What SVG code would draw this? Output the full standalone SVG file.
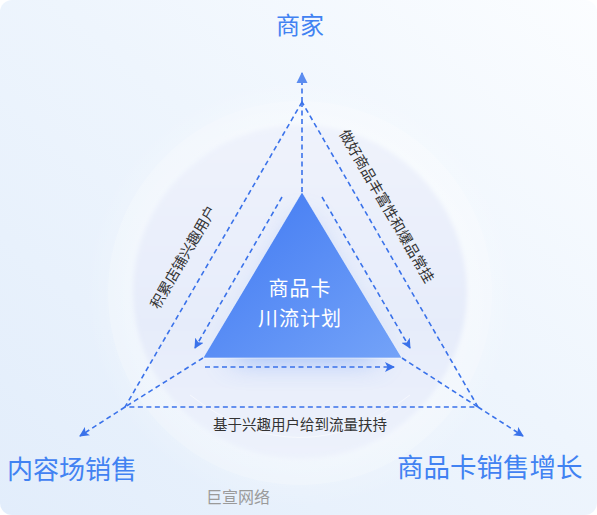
<svg xmlns="http://www.w3.org/2000/svg" width="597" height="515" viewBox="0 0 597 515">
  <defs>
    <linearGradient id="bg" x1="0" y1="1" x2="1" y2="0">
      <stop offset="0" stop-color="#e2edfb"/>
      <stop offset="0.55" stop-color="#eef5fd"/>
      <stop offset="1" stop-color="#fbfdff"/>
    </linearGradient>
    <radialGradient id="halo" cx="0.5" cy="0.5" r="0.5">
      <stop offset="0.7" stop-color="#ffffff" stop-opacity="0.35"/>
      <stop offset="1" stop-color="#ffffff" stop-opacity="0"/>
    </radialGradient>
    <linearGradient id="disc" x1="0" y1="0" x2="0" y2="1">
      <stop offset="0" stop-color="#eff3fc"/>
      <stop offset="0.6" stop-color="#e6ecfa"/>
      <stop offset="1" stop-color="#edf2fc"/>
    </linearGradient>
    <linearGradient id="tri" x1="0" y1="0" x2="1" y2="1">
      <stop offset="0" stop-color="#3f78f2"/>
      <stop offset="1" stop-color="#74a3f8"/>
    </linearGradient>
    <filter id="blur" x="-50%" y="-50%" width="200%" height="200%">
      <feGaussianBlur stdDeviation="14"/>
    </filter>
    <filter id="soft" x="-20%" y="-20%" width="140%" height="140%">
      <feGaussianBlur stdDeviation="2"/>
    </filter>
    <marker id="ah" viewBox="0 0 10 10" refX="9" refY="5" markerWidth="10" markerHeight="10" markerUnits="userSpaceOnUse" orient="auto">
      <path d="M0,0 L10,5 L0,10 L2.5,5 z" fill="#3a72ea"/>
    </marker>
    <marker id="ahTop" viewBox="0 0 10 10" refX="9" refY="5" markerWidth="11" markerHeight="12" markerUnits="userSpaceOnUse" orient="auto">
      <path d="M0,0 L10,5 L0,10 z" fill="#5b8cf0"/>
    </marker>
  </defs>
  <style>
    .dash { fill: none; stroke: #3a72ea; stroke-width: 1.6; stroke-dasharray: 5 3.5; }
    .big { font-family: "Noto Sans CJK SC", "Noto Sans", sans-serif; fill: #4182f2; }
    .lbl { font-family: "Noto Sans CJK SC", "Noto Sans", sans-serif; fill: #333333; font-size: 14.5px; }
    .ctr { font-family: "Noto Sans CJK SC", "Noto Sans", sans-serif; fill: #ffffff; font-size: 20px; letter-spacing: 1px; }
  </style>

  <!-- background -->
  <rect x="0" y="0" width="597" height="515" fill="#ffffff"/>
  <rect x="0" y="0" width="597" height="515" rx="12" fill="url(#bg)"/>
  <circle cx="300" cy="293" r="215" fill="url(#halo)"/>
  <circle cx="300" cy="293" r="192" fill="#ffffff" fill-opacity="0.2"/>
  <circle cx="300" cy="292" r="167" fill="url(#disc)" filter="url(#soft)"/>
  <path d="M190,395 Q300,480 410,395" fill="none" stroke="#ffffff" stroke-opacity="0.5" stroke-width="1"/>

  <!-- center node -->
  <g id="center">
    <path d="M302,215 L228,360 L380,360 Z" fill="#4d84f3" opacity="0.5" filter="url(#blur)"/>
    <path d="M302,192 L203,358 L402,358 Z" fill="url(#tri)" stroke="#ffffff" stroke-opacity="0.55" stroke-width="1" stroke-linejoin="round"/>
    <text class="ctr" x="300" y="296" text-anchor="middle">商品卡</text>
    <text class="ctr" x="300" y="326" text-anchor="middle">川流计划</text>
  </g>

  <!-- connectors -->
  <g id="connectors">
    <path class="dash" d="M302,102 L125,407 L478,407 Z"/>
    <line class="dash" x1="302" y1="192" x2="302" y2="102"/>
    <line class="dash" x1="203" y1="358" x2="125" y2="407"/>
    <line class="dash" x1="402" y1="358" x2="478" y2="407"/>
    <line class="dash" x1="302" y1="102" x2="302" y2="73" stroke="#5b8cf0" marker-end="url(#ahTop)"/>
    <line class="dash" x1="125" y1="407" x2="80" y2="436" marker-end="url(#ah)"/>
    <line class="dash" x1="478" y1="407" x2="523" y2="436" marker-end="url(#ah)"/>
    <line class="dash" x1="282" y1="197" x2="195" y2="348" marker-end="url(#ah)"/>
    <line class="dash" x1="322" y1="197" x2="410" y2="348" marker-end="url(#ah)"/>
    <line class="dash" x1="205" y1="367" x2="394" y2="367" marker-end="url(#ah)"/>
  </g>

  <!-- labels -->
  <g id="merchant">
    <text class="big" x="300" y="34" font-size="24" text-anchor="middle">商家</text>
  </g>
  <g id="content-sales">
    <text class="big" x="7" y="479" font-size="26">内容场销售</text>
  </g>
  <g id="card-sales">
    <text class="big" x="397" y="477" font-size="26.5">商品卡销售增长</text>
  </g>
  <g id="edge-labels">
    <text class="lbl" transform="translate(183,257) rotate(-60)" x="0" y="5.5" text-anchor="middle">积累店铺兴趣用户</text>
    <text class="lbl" transform="translate(387,206) rotate(60)" x="0" y="5.5" text-anchor="middle" font-size="15">做好商品丰富性和爆品常挂</text>
    <text class="lbl" x="300" y="430" text-anchor="middle">基于兴趣用户给到流量扶持</text>
  </g>
  <g id="watermark">
    <text x="206" y="503" font-family="Noto Sans CJK SC, Noto Sans, sans-serif" font-size="16" fill="#9a9a9a">巨宣网络</text>
  </g>
</svg>
